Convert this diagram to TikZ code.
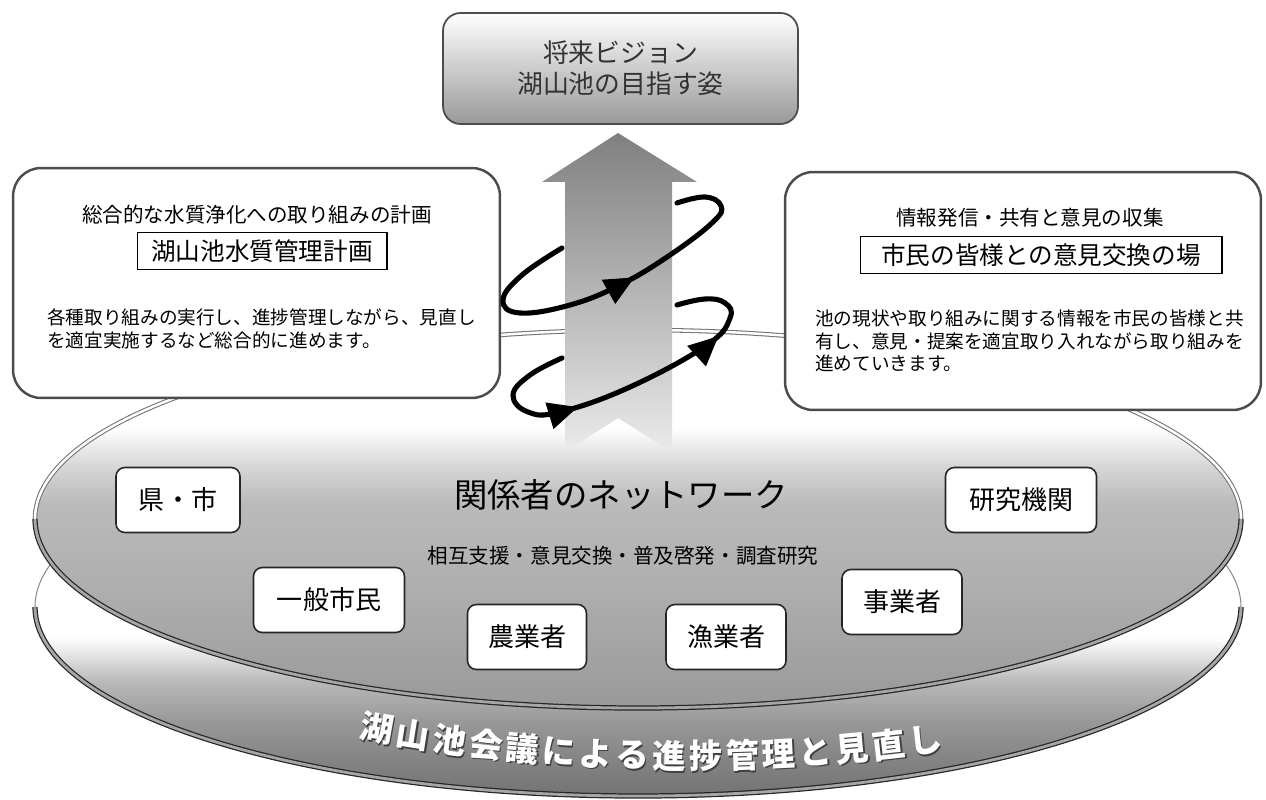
\documentclass[tikz,border=0pt]{standalone}
\usepackage{fontspec}
\setmainfont{Noto Sans CJK JP}
\usetikzlibrary{%
  arrows.meta,%
  calc,%
  decorations.markings%
}
\pgfdeclareverticalshading{upperdisk}{100bp}{color(0bp)=(black!40); color(25bp)=(black!40); color(40bp)=(black!32); color(52bp)=(black!27); color(57bp)=(black!16); color(62bp)=(white); color(100bp)=(white)}
\pgfdeclareverticalshading{lowerdisk}{100bp}{color(0bp)=(black!55); color(25bp)=(black!55); color(30bp)=(black!48); color(35bp)=(black!40); color(40bp)=(black!28); color(46bp)=(white); color(100bp)=(white)}
\newcommand{\fs}[1]{\fontsize{#1}{1.2\dimexpr#1\relax}\selectfont}
% white letter with a dark shadow
\newcommand{\rimletter}[1]{\rlap{\kern0.9pt\raisebox{-0.9pt}{\textcolor{black!75}{#1}}}#1}

\begin{document}
\begin{tikzpicture}[x=0.02cm,y=-0.02cm,
  disk/.style={draw=black!45,line width=0.6pt},
  rim/.style={draw=black!85,line width=0.7pt,double=black!35,double distance=1.6pt},
  toprim/.style={draw=black!55,line width=0.6pt,double=white,double distance=1.4pt},
  panel/.style={draw=black!70,line width=1.4pt,fill=white,rounded corners=16pt},
  member/.style={draw=black!85,line width=0.9pt,fill=white,rounded corners=5pt,
    minimum height=1.3cm,font=\fs{14.8pt}},
  namebox/.style={draw=black,line width=0.6pt,fill=white,minimum height=0.73cm,
    font=\fs{14pt}},
  loop/.style={line width=2.9pt,line cap=round,postaction=decorate},
  rimchar/.style={text=white,font=\bfseries\fs{19pt},inner sep=0pt}]
\useasboundingbox (0,0) rectangle (1266,800);

% the two disks
\shadedraw[shading=lowerdisk,disk] (638,607) ellipse [x radius=603, y radius=189];
\draw[rim] (1241,607) arc[start angle=0,end angle=180,x radius=603,y radius=189];
\shadedraw[shading=upperdisk,disk] (638,519) ellipse [x radius=603, y radius=189];
\draw[toprim] (35,519) arc[start angle=180,end angle=360,x radius=603,y radius=189];
\draw[rim] (1241,519) arc[start angle=0,end angle=180,x radius=603,y radius=189];

% text round the lower disk
\coordinate (arc0) at (690,-1030);
\foreach \c [count=\i from 0] in {湖,山,池,会,議,に,よ,る,進,捗,管,理,と,見,直,し}
{
  \pgfmathsetmacro\a{-10.09+1.177*\i}
  \node[rimchar,rotate=\a] (r\i) at ($(arc0)+({90-\a}:1787)$) {\rimletter{\c}};
}

% network
\node[font=\fs{19pt}] (network) at (621,495) {関係者のネットワーク};
\node[font=\fs{11.7pt}] (shien) at (623,556) {相互支援・意見交換・普及啓発・調査研究};
\node[member,minimum width=2.48cm] (ken) at (178,500) {県・市};
\node[member,minimum width=3.02cm] (kenkyu) at (1021,500) {研究機関};
\node[member,minimum width=3.02cm] (shimin) at (329,600) {一般市民};
\node[member,minimum width=2.38cm] (nogyo) at (527,637) {農業者};
\node[member,minimum width=2.4cm] (gyogyo) at (726,637) {漁業者};
\node[member,minimum width=2.4cm] (jigyo) at (902,602) {事業者};

% big arrow
\shade[top color=black!50,bottom color=black!8]
  (618,133) -- (697,182) -- (672,182) -- (672,452) -- (618,418)
  -- (565,452) -- (565,182) -- (542,182) -- cycle;

% left panel
\node[panel,minimum width=9.74cm,minimum height=4.6cm] (plan) at (256.5,283) {};
\node[font=\fs{11.7pt}] (planhead) at (257,215) {総合的な水質浄化への取り組みの計画};
\node[namebox,minimum width=5cm] (planname) at (262,251) {湖山池水質管理計画};
\node[font=\fs{10.6pt},align=left,anchor=west,inner sep=0pt] (plantext) at (47,329)
  {各種取り組みの実行し、進捗管理しながら、見直し\\を適宜実施するなど総合的に進めます。};

% right panel
\node[panel,minimum width=9.52cm,minimum height=4.76cm] (forum) at (1023,291) {};
\node[font=\fs{11.7pt}] (forumhead) at (1030,218) {情報発信・共有と意見の収集};
\node[namebox,minimum width=7.24cm] (forumname) at (1041,255) {市民の皆様との意見交換の場};
\node[font=\fs{10.6pt},align=left,anchor=west,inner sep=0pt] (forumtext) at (815,341)
  {池の現状や取り組みに関する情報を市民の皆様と共\\有し、意見・提案を適宜取り入れながら取り組みを\\進めていきます。};

% vision
\node[draw=black!70,line width=1pt,rounded corners=10pt,top color=white,bottom color=black!40,
  minimum width=7.1cm,minimum height=2.22cm,align=center,font=\fs{14.7pt},text=black!80]
  (vision) at (620.5,68.5) {将来ビジョン\\湖山池の目指す姿};

% spiral round the arrow
\draw[loop,decoration={markings,
    mark=at position 0.58 with {\arrow{Triangle[length=17pt,width=15pt]}}}]
  plot[smooth,tension=0.7] coordinates {(562,248) (522,275) (503,300) (520,313) (570,305)
    (620,285) (670,255) (713,222) (721,206) (705,197) (677,203)};
\draw[loop,decoration={markings,
    mark=at position 0.36 with {\arrow{Triangle[length=17pt,width=15pt]}},
    mark=at position 0.77 with {\arrow{Triangle[length=17pt,width=15pt]}}}]
  plot[smooth,tension=0.7] coordinates {(562,358) (530,375) (513,395) (528,412) (560,412)
    (630,387) (707,345) (730,318) (725,303) (705,299) (677,305)};
\end{tikzpicture}
\end{document}
